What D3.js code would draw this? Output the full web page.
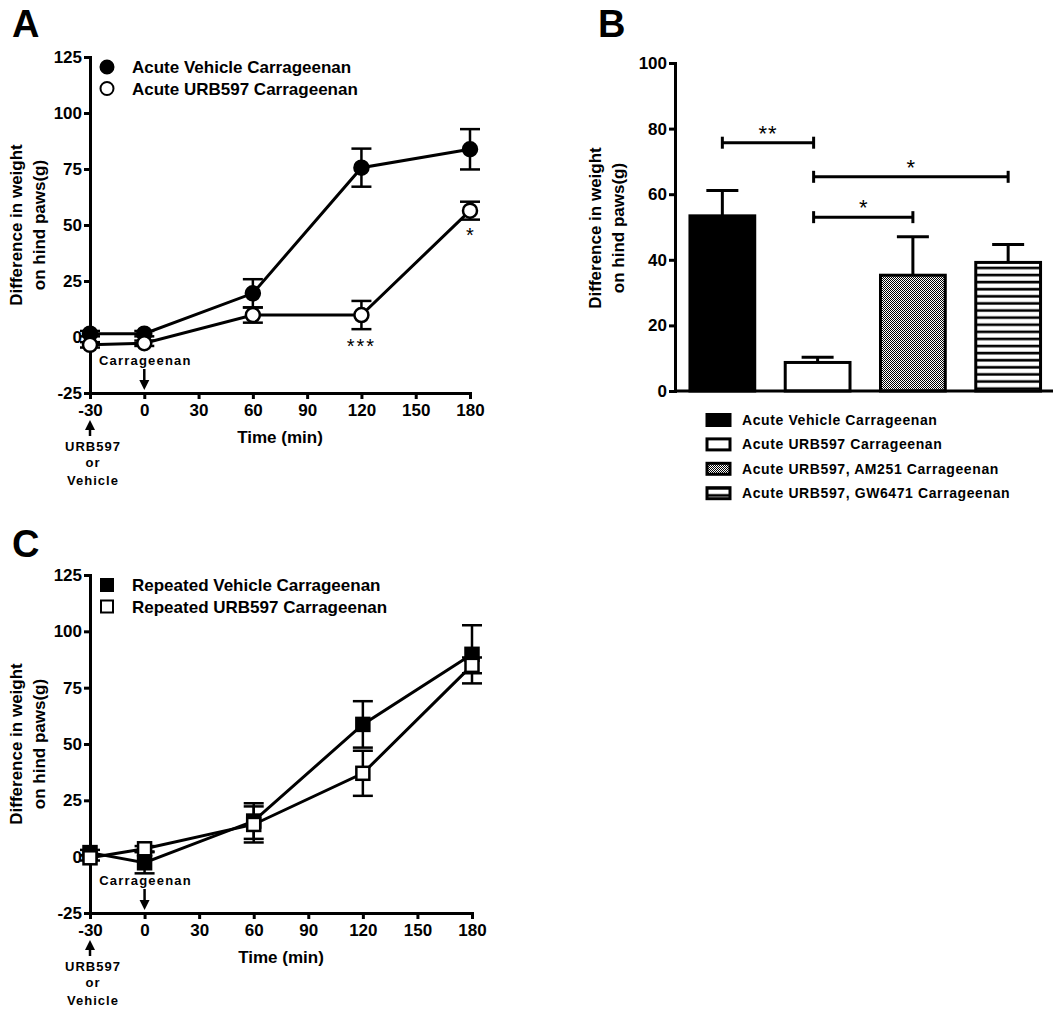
<!DOCTYPE html>
<html><head><meta charset="utf-8">
<script src="https://cdn.jsdelivr.net/npm/d3@7"></script>
<style>
body{margin:0;background:#fff}
svg text{font-family:"Liberation Sans",Arial,Helvetica,sans-serif;fill:#000}
</style>
</head><body>
<svg id="chart" width="1063" height="1014"></svg>
<script>
// ---------------- DATA ----------------
const timePoints = [-30, 0, 60, 120, 180];
const xTickValues = [-30, 0, 30, 60, 90, 120, 150, 180];
const yTickValuesLine = [-25, 0, 25, 50, 75, 100, 125];

const acuteVehicle    = [1.5, 1.5, 19.5, 75.6, 83.8];
const acuteVehicleSem = [1.2, 1.2, 6.3, 8.5, 9.0];
const acuteURB        = [-3.5, -2.8, 9.8, 9.8, 56.4];
const acuteURBSem     = [1.2, 1.2, 3.4, 6.3, 4.0];
const acuteLegend     = ["Acute Vehicle Carrageenan", "Acute URB597 Carrageenan"];
const acuteStarTimes  = [120, 180];
const acuteStarY      = [-2.2, 47.3];
const acuteStarLabels = ["***", "*"];

const repeatedVehicle    = [1.8, -2.7, 15.8, 58.7, 89.8];
const repeatedVehicleSem = [1.2, 4.7, 7.9, 10.3, 12.9];
const repeatedURB        = [-0.5, 3.5, 14.3, 37.0, 84.9];
const repeatedURBSem     = [1.2, 1.2, 8.0, 10.0, 3.5];
const repeatedLegend     = ["Repeated Vehicle Carrageenan", "Repeated URB597 Carrageenan"];

const barCategories = ["Acute Vehicle Carrageenan", "Acute URB597 Carrageenan",
                       "Acute URB597, AM251 Carrageenan", "Acute URB597, GW6471 Carrageenan"];
const barValues = [53.4, 8.7, 35.3, 39.2];
const barSem    = [7.7, 1.6, 11.7, 5.5];
const yTickValuesBar = [0, 20, 40, 60, 80, 100];
const bracketFrom   = [0, 1, 1];
const bracketTo     = [1, 3, 2];
const bracketY      = [75.7, 65.3, 53.0];
const bracketLabels = ["**", "*", "*"];

const yLabelLines = ["Difference in weight", "on hind paws(g)"];

// ---------------- SETUP ----------------
const svg = d3.select("#chart");
const defs = svg.append("defs");
const BOLD = "bold";
const plainFmt = d => String(d);

function styleAxis(g, fs) {
  g.select(".domain").attr("stroke", "#000").attr("stroke-width", 3).attr("stroke-linecap", "square");
  g.selectAll(".tick line").attr("stroke", "#000").attr("stroke-width", 3);
  g.selectAll(".tick text").attr("font-size", fs).attr("font-weight", BOLD).attr("fill", "#000");
}

function yLabel(cx1, cx2, cy) {
  [cx1, cx2].forEach((cx, i) => {
    svg.append("text").attr("transform", `translate(${cx},${cy}) rotate(-90)`)
      .attr("text-anchor", "middle").attr("font-size", 17).attr("font-weight", BOLD)
      .attr("dy", "0.35em").text(yLabelLines[i]);
  });
}

function panelLetter(ch, x, y) {
  svg.append("text").attr("x", x).attr("y", y).attr("font-size", 38).attr("font-weight", BOLD).text(ch);
}

// ---------------- LINE PANELS ----------------
function linePanel(cfg) {
  const x = d3.scaleLinear().domain([-30, 180]).range([cfg.x0, cfg.x1]);
  const y = d3.scaleLinear().domain([-25, 125]).range([cfg.yBottom, cfg.yTop]);
  const g = svg.append("g");

  const ax = g.append("g").attr("transform", `translate(0,${cfg.yBottom})`)
    .call(d3.axisBottom(x).tickValues(xTickValues).tickFormat(plainFmt).tickSize(6).tickSizeOuter(0).tickPadding(5));
  styleAxis(ax, 17);
  const ay = g.append("g").attr("transform", `translate(${cfg.x0},0)`)
    .call(d3.axisLeft(y).tickValues(yTickValuesLine).tickFormat(plainFmt).tickSize(6).tickSizeOuter(0).tickPadding(2));
  styleAxis(ay, 17);

  g.append("text").attr("x", (cfg.x0 + cfg.x1) / 2 + 0).attr("y", cfg.yBottom + 50)
    .attr("text-anchor", "middle").attr("font-size", 17).attr("font-weight", BOLD).text("Time (min)");

  const line = d3.line().x(d => x(d.t)).y(d => y(d.v));
  cfg.series.forEach(s => {
    const pts = timePoints.map((t, i) => ({t, v: s.vals[i], e: s.sems[i]}));
    g.append("path").datum(pts).attr("d", line).attr("fill", "none")
      .attr("stroke", "#000").attr("stroke-width", 3);
    const eb = g.append("g").attr("stroke", "#000").attr("stroke-width", 2.5);
    pts.forEach(p => {
      eb.append("line").attr("x1", x(p.t)).attr("x2", x(p.t)).attr("y1", y(p.v - p.e)).attr("y2", y(p.v + p.e));
      [p.v - p.e, p.v + p.e].forEach(v => eb.append("line")
        .attr("x1", x(p.t) - 10).attr("x2", x(p.t) + 10).attr("y1", y(v)).attr("y2", y(v)));
    });
    const fill = s.filled ? "#000" : "#fff";
    if (s.marker === "circle") {
      g.selectAll(null).data(pts).enter().append("circle")
        .attr("cx", d => x(d.t)).attr("cy", d => y(d.v)).attr("r", 7)
        .attr("fill", fill).attr("stroke", "#000").attr("stroke-width", 2.5);
    } else {
      g.selectAll(null).data(pts).enter().append("rect")
        .attr("x", d => x(d.t) - 6.5).attr("y", d => y(d.v) - 6.5).attr("width", 13).attr("height", 13)
        .attr("fill", fill).attr("stroke", "#000").attr("stroke-width", 2.5);
    }
  });

  // legend
  cfg.series.forEach((s, i) => {
    const ly = cfg.yTop + 10 + i * 21.5;
    const lx = cfg.x0 + 17;
    const fill = s.filled ? "#000" : "#fff";
    if (s.marker === "circle") {
      g.append("circle").attr("cx", lx).attr("cy", ly).attr("r", 6.5)
        .attr("fill", fill).attr("stroke", "#000").attr("stroke-width", 2);
    } else {
      g.append("rect").attr("x", lx - 6).attr("y", ly - 6).attr("width", 12).attr("height", 12)
        .attr("fill", fill).attr("stroke", "#000").attr("stroke-width", 2);
    }
    g.append("text").attr("x", cfg.x0 + 42).attr("y", ly + 6).attr("font-size", 17)
      .attr("font-weight", BOLD).text(cfg.legend[i]);
  });

  // stars
  (cfg.starTimes || []).forEach((t, i) => {
    g.append("text").attr("x", x(t)).attr("y", y(cfg.starY[i]) + 11).attr("text-anchor", "middle")
      .attr("font-size", 20).attr("letter-spacing", cfg.starLabels[i].length > 1 ? 2 : 0)
      .text(cfg.starLabels[i]);
  });

  // Carrageenan arrow at t=0
  const xc = x(0), yb = cfg.yBottom;
  g.append("text").attr("x", xc + 1).attr("y", yb - 28).attr("text-anchor", "middle")
    .attr("font-size", 13).attr("font-weight", BOLD).attr("letter-spacing", 1.2).text("Carrageenan");
  g.append("line").attr("x1", xc).attr("x2", xc).attr("y1", yb - 24).attr("y2", yb - 10)
    .attr("stroke", "#000").attr("stroke-width", 2.5);
  g.append("path").attr("d", `M${xc - 5},${yb - 13}L${xc + 5},${yb - 13}L${xc},${yb - 3}Z`).attr("fill", "#000");

  // URB597 or Vehicle arrow at t=-30
  const xu = x(-30);
  g.append("path").attr("d", `M${xu},${yb + 27}L${xu + 5},${yb + 37}L${xu - 5},${yb + 37}Z`).attr("fill", "#000");
  g.append("line").attr("x1", xu).attr("x2", xu).attr("y1", yb + 34).attr("y2", yb + 43)
    .attr("stroke", "#000").attr("stroke-width", 2.5);
  [["URB597", 58], ["or", 74], ["Vehicle", 92]].forEach(([t, dy]) => {
    g.append("text").attr("x", xu + 3).attr("y", yb + dy).attr("text-anchor", "middle")
      .attr("font-size", 13).attr("font-weight", BOLD).attr("letter-spacing", 1).text(t);
  });
}

panelLetter("A", 12, 37);
linePanel({
  x0: 90, x1: 470, yTop: 57, yBottom: 393,
  legend: acuteLegend,
  series: [
    {vals: acuteVehicle, sems: acuteVehicleSem, marker: "circle", filled: true},
    {vals: acuteURB, sems: acuteURBSem, marker: "circle", filled: false}
  ],
  starTimes: acuteStarTimes, starY: acuteStarY, starLabels: acuteStarLabels
});
yLabel(16, 39, 225);

panelLetter("C", 12, 557);
linePanel({
  x0: 90, x1: 472, yTop: 575, yBottom: 913,
  legend: repeatedLegend,
  series: [
    {vals: repeatedVehicle, sems: repeatedVehicleSem, marker: "square", filled: true},
    {vals: repeatedURB, sems: repeatedURBSem, marker: "square", filled: false}
  ]
});
yLabel(16, 39, 744);

// ---------------- BAR PANEL ----------------
panelLetter("B", 598, 37);
const xb = d3.scaleBand().domain(barCategories).range([675, 1055.5]).paddingInner(0.32).paddingOuter(0.157);
const yb = d3.scaleLinear().domain([0, 100]).range([391, 63]);

// patterns
const chk = defs.append("pattern").attr("id", "checker").attr("patternUnits", "userSpaceOnUse")
  .attr("width", 2).attr("height", 2);
chk.append("rect").attr("width", 2).attr("height", 2).attr("fill", "#fff");
chk.append("rect").attr("width", 1).attr("height", 1).attr("fill", "#000");
chk.append("rect").attr("x", 1).attr("y", 1).attr("width", 1).attr("height", 1).attr("fill", "#000");

function stripePattern(id, y0) {
  const p = defs.append("pattern").attr("id", id).attr("patternUnits", "userSpaceOnUse")
    .attr("width", 10).attr("height", 7.1).attr("y", y0);
  p.append("rect").attr("width", 10).attr("height", 7.1).attr("fill", "#fff");
  p.append("rect").attr("y", 4.2).attr("width", 10).attr("height", 2.6).attr("fill", "#000");
}
stripePattern("stripes", yb(barValues[3]));
stripePattern("stripesLegend", 0);

const barFills = ["#000", "#fff", "url(#checker)", "url(#stripes)"];
const legendFills = ["#000", "#fff", "url(#checker)", "url(#stripesLegend)"];

const gb = svg.append("g");
// error bars (upward only)
barCategories.forEach((c, i) => {
  const cx = xb(c) + xb.bandwidth() / 2;
  gb.append("line").attr("x1", cx).attr("x2", cx).attr("y1", yb(barValues[i])).attr("y2", yb(barValues[i] + barSem[i]))
    .attr("stroke", "#000").attr("stroke-width", 3);
  gb.append("line").attr("x1", cx - 16).attr("x2", cx + 16)
    .attr("y1", yb(barValues[i] + barSem[i])).attr("y2", yb(barValues[i] + barSem[i]))
    .attr("stroke", "#000").attr("stroke-width", 3);
});
gb.selectAll(null).data(barCategories).enter().append("rect")
  .attr("x", d => xb(d)).attr("width", xb.bandwidth())
  .attr("y", (d, i) => yb(barValues[i])).attr("height", (d, i) => yb(0) - yb(barValues[i]))
  .attr("fill", (d, i) => barFills[i]).attr("stroke", "#000").attr("stroke-width", 3);

const ayb = gb.append("g").attr("transform", "translate(675,0)")
  .call(d3.axisLeft(yb).tickValues(yTickValuesBar).tickFormat(plainFmt).tickSize(6).tickSizeOuter(0).tickPadding(2));
styleAxis(ayb, 17);
gb.append("line").attr("x1", 675).attr("x2", 1053).attr("y1", yb(0)).attr("y2", yb(0))
  .attr("stroke", "#000").attr("stroke-width", 3);

// significance brackets
bracketFrom.forEach((f, i) => {
  const xa = xb(barCategories[f]) + xb.bandwidth() / 2 - (f === 1 ? 4 : 0);
  const xz = xb(barCategories[bracketTo[i]]) + xb.bandwidth() / 2 - (bracketTo[i] === 1 ? 4 : 0);
  const yy = yb(bracketY[i]);
  const br = gb.append("g").attr("stroke", "#000").attr("stroke-width", 3);
  br.append("line").attr("x1", xa).attr("x2", xz).attr("y1", yy).attr("y2", yy);
  br.append("line").attr("x1", xa).attr("x2", xa).attr("y1", yy - 6).attr("y2", yy + 6);
  br.append("line").attr("x1", xz).attr("x2", xz).attr("y1", yy - 6).attr("y2", yy + 6);
  gb.append("text").attr("x", (xa + xz) / 2).attr("y", yy - 2).attr("text-anchor", "middle")
    .attr("font-size", 22).attr("letter-spacing", bracketLabels[i].length > 1 ? 1 : 0).text(bracketLabels[i]);
});
yLabel(595, 618, 228);

// bar legend
barCategories.forEach((c, i) => {
  const ly = 420 + i * 24.4;
  gb.append("rect").attr("x", 707).attr("y", ly - 5.5).attr("width", 23).attr("height", 11)
    .attr("fill", legendFills[i]).attr("stroke", "#000").attr("stroke-width", 3);
  gb.append("text").attr("x", 742).attr("y", ly + 5).attr("font-size", 14).attr("font-weight", BOLD)
    .attr("letter-spacing", 0.6).text(c);
});
</script>
</body></html>
